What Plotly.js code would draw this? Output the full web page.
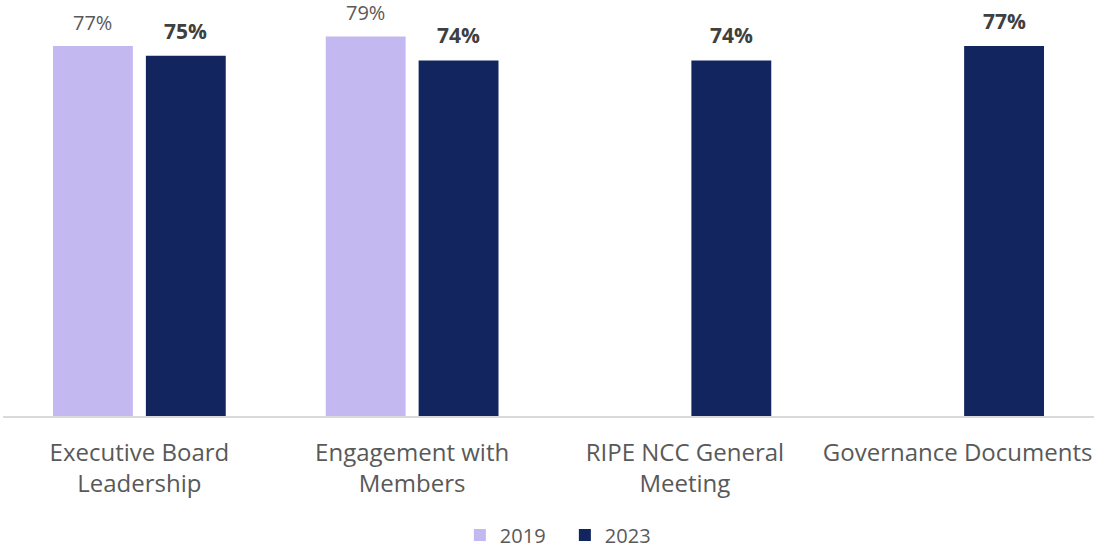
<!DOCTYPE html>
<html>
<head>
<meta charset="utf-8">
<script src="https://cdn.plot.ly/plotly-3.0.1.min.js"></script>
<style>html,body{margin:0;padding:0;background:#fff;}#chart{width:1095px;height:549px;}</style>
</head>
<body>
<div id="chart"></div>
<script>
const categories = ["Executive Board<br>Leadership", "Engagement with<br>Members", "RIPE NCC General<br>Meeting", "Governance Documents"];
const values2019 = [77, 79, null, null];
const values2023 = [75, 74, 74, 77];
const seriesNames = ["2019", "2023"];

const color2019 = "#C3B8F0";
const color2023 = "#13255F";

const traces = [
  {type: "bar", name: seriesNames[0], x: categories, y: values2019, marker: {color: color2019}, hoverinfo: "none"},
  {type: "bar", name: seriesNames[1], x: categories, y: values2023, marker: {color: color2023}, hoverinfo: "none"}
];

const annotations = [];
categories.forEach((c, i) => {
  if (values2019[i] != null) {
    annotations.push({x: c, y: values2019[i], xref: "x", yref: "y", xshift: -46.5, yshift: 9.5,
      yanchor: "bottom", borderpad: 0, text: values2019[i] + "%", showarrow: false,
      font: {family: "Open Sans", size: 20, color: "#595959"}});
  }
  if (values2023[i] != null) {
    annotations.push({x: c, y: values2023[i], xref: "x", yref: "y", xshift: 46.5, yshift: 10,
      yanchor: "bottom", borderpad: 0, text: "<b>" + values2023[i] + "%</b>", showarrow: false,
      font: {family: "Open Sans", size: 21, color: "#404040"}});
  }
});

const layout = {
  width: 1095, height: 549,
  margin: {l: 3, r: 1, t: 10, b: 133, autoexpand: false},
  paper_bgcolor: "#fff", plot_bgcolor: "#fff",
  font: {family: "Open Sans", color: "#595959"},
  barmode: "group",
  bargap: 0.319,
  bargroupgap: 0.14,
  showlegend: true,
  legend: {orientation: "h", x: 0.515, xanchor: "center", y: -0.293, yanchor: "middle",
    font: {family: "Open Sans", size: 20, color: "#595959"}, itemwidth: 30, entrywidth: 60, traceorder: "normal"},
  xaxis: {showline: true, linecolor: "#D9D9D9", linewidth: 2, ticks: "", tickfont: {family: "Open Sans", size: 24, color: "#595959"},
    ticklabelstandoff: 14, fixedrange: true, automargin: false},
  yaxis: {range: [0, 84.5], visible: false, showgrid: false, zeroline: false, fixedrange: true},
  annotations: annotations
};

Plotly.newPlot("chart", traces, layout, {displayModeBar: false, staticPlot: true});
</script>
</body>
</html>
